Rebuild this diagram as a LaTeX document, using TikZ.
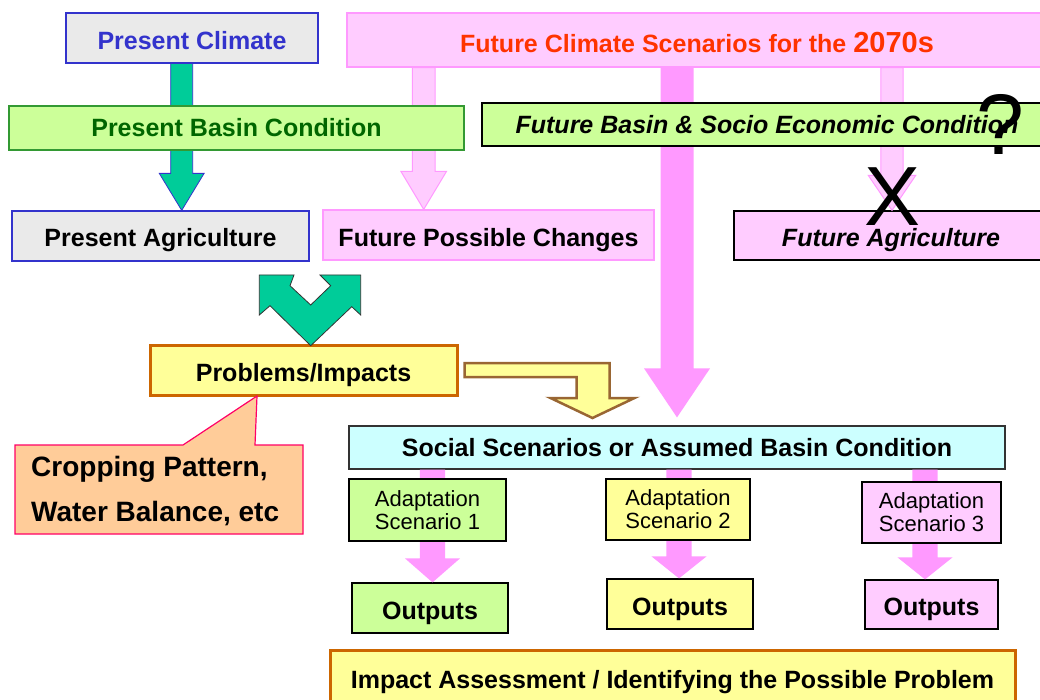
\documentclass[tikz,border=0pt]{standalone}
\usepackage{fontspec}
\setmainfont{Liberation Sans}
\usepackage{tikz}
\usetikzlibrary{calc}
\definecolor{climgray}{HTML}{EAEAEA}
\definecolor{climblue}{HTML}{3333CC}
\definecolor{pinklt}{HTML}{FFCCFF}
\definecolor{pinkmid}{HTML}{FF99FF}
\definecolor{futred}{HTML}{FF3300}
\definecolor{limegreen}{HTML}{CCFF99}
\definecolor{basingreen}{HTML}{339933}
\definecolor{darkgreen}{HTML}{006600}
\definecolor{paleyellow}{HTML}{FFFF99}
\definecolor{rust}{HTML}{CC6600}
\definecolor{brownish}{HTML}{996633}
\definecolor{peach}{HTML}{FFCC99}
\definecolor{rosered}{HTML}{FF0066}
\definecolor{icecyan}{HTML}{CCFFFF}
\definecolor{jade}{HTML}{00CC99}

\newcommand{\boxfont}{\fontsize{25}{30}\selectfont\bfseries}
% block arrow: [style]{from}{tip}{half shaft}{half head}{head length}
\newcommand{\fatarrow}[6][]{%
  \path[#1] ($#2+(-#4,0)$) -- ($#3+(-#4,-#6)$) -- ($#3+(-#5,-#6)$) -- #3
    -- ($#3+(#5,-#6)$) -- ($#3+(#4,-#6)$) -- ($#2+(#4,0)$) -- cycle;}

\tikzset{
  box/.style={draw=black, line width=1.2pt, inner sep=0pt, minimum height=50pt,
    text height=22pt, text depth=0pt, font=\boxfont},
  slim/.style={minimum height=43pt, text height=18pt},
  climbox/.style={box, fill=climgray, draw=climblue},
  pinkbox/.style={box, fill=pinklt, draw=pinkmid},
  limebox/.style={box, fill=limegreen},
  yelbox/.style={box, fill=paleyellow},
  rustbox/.style={box, fill=paleyellow, draw=rust, line width=3pt},
  adapt/.style={draw=black, line width=1.2pt, inner sep=0pt, minimum height=61pt,
    align=center, font=\fontsize{22}{23}\selectfont},
  garrow/.style={fill=jade, draw=climblue, line width=0.8pt},
  parrow/.style={fill=pinklt, draw=pinkmid, line width=1pt},
  pfat/.style={fill=pinkmid},
  gshape/.style={fill=jade, draw=black!80, line width=0.8pt, line join=miter},
  yarrow/.style={fill=paleyellow, draw=brownish, line width=2.5pt, line join=miter},
  callout/.style={fill=peach, draw=rosered, line width=1.2pt},
  cropfont/.style={font=\fontsize{28}{45}\selectfont\bfseries, inner sep=0pt},
  big/.style={font=\fontsize{84}{84}\selectfont, inner sep=0pt},
}

\begin{document}
\begin{tikzpicture}[x=1pt, y=-1pt]
  \useasboundingbox (0,0) rectangle (1040,700);
  \clip (0,0) rectangle (1040,700);
  \fill[white] (0,0) rectangle (1040,700);

  % columns of the block arrows
  \coordinate (ga) at (181.7,0);
  \coordinate (pa) at (423.7,0);
  \coordinate (fp) at (677,0);
  \coordinate (fa) at (892,0);
  \coordinate (s1) at (432.5,0);
  \coordinate (s2) at (679,0);
  \coordinate (s3) at (925,0);

  % climate, agriculture and scenario boxes
  \node[climbox, minimum width=252pt, text height=24pt, text=climblue] (clim) at (192,38) {Present Climate};
  \node[pinkbox, minimum width=700pt, minimum height=54pt, text height=26pt, text=futred] (fclim) at (697,40)
    {Future Climate Scenarios for the {\fontsize{29}{30}\selectfont 2070s}};
  \node[climbox, minimum width=297pt] (pagri) at (160.5,236) {Present Agriculture};
  \node[pinkbox, minimum width=331pt, text height=23pt] (fposs) at (488.5,235) {Future Possible Changes};
  \node[box, fill=pinklt, minimum width=314pt, minimum height=49pt] (fagri) at (891,235.5) {\itshape Future Agriculture};
  \node[box, slim, fill=icecyan, draw=black!80, minimum width=656pt] (social) at (677,447.5)
    {Social Scenarios or Assumed Basin Condition};
  \node[limebox, minimum width=156pt] (out1) at (430,608) {Outputs};
  \node[yelbox, minimum width=146pt] (out2) at (680,604) {Outputs};
  \node[pinkbox, draw=black, minimum width=133pt, minimum height=49pt] (out3) at (931.5,604.5) {Outputs};
  \node[rustbox, minimum width=307pt] (prob) at (303.5,370) {Problems/Impacts};
  \node[rustbox, minimum width=685pt, minimum height=60pt, text height=16pt] (impact) at (672.5,680)
    {Impact Assessment / Identifying the Possible Problem};

  \coordinate (fptip) at ($(social.north -| fp)+(0,-8)$);
  \fatarrow[garrow]{(clim.south -| ga)}{(pagri.north -| ga)}{11}{22.4}{37}
  \fatarrow[parrow]{(fclim.south -| pa)}{(fposs.north -| pa)}{11.3}{22.8}{38}
  \fatarrow[pfat]{(fclim.south -| fp)}{(fptip)}{16.5}{33}{49}
  \fatarrow[parrow]{(fclim.south -| fa)}{(fagri.north -| fa)}{11.2}{23.7}{35}
  \fatarrow[pfat]{(social.south -| s1)}{(out1.north -| s1)}{12.7}{27.5}{24}
  \fatarrow[pfat]{(social.south -| s2)}{(out2.north -| s2)}{12.7}{27.5}{22}
  \fatarrow[pfat]{(social.south -| s3)}{(out3.north -| s3)}{12.7}{27.5}{22}

  % basin conditions over the arrow shafts
  \node[limebox, slim, draw=basingreen, minimum width=455pt, minimum height=44pt, text=darkgreen] (pbasin) at (236.5,128)
    {Present Basin Condition};
  \node[limebox, slim, minimum width=570pt] (fbasin) at (767,124.5)
    {\itshape Future Basin \& Socio Economic Condition};
  \node[adapt, fill=limegreen, minimum width=157pt, minimum height=62pt] (ad1) at (427.5,510) {Adaptation\\Scenario 1};
  \node[adapt, fill=paleyellow, minimum width=144pt] (ad2) at (678,509.5) {Adaptation\\Scenario 2};
  \node[adapt, fill=pinklt, minimum width=139pt] (ad3) at (931.5,512.5) {Adaptation\\Scenario 3};

  % merging arrow and bent arrow
  \draw[gshape] (259.3,275) -- (294,275) -- (290,285.7) -- (310.7,305) -- (330.7,285.7) -- (320,275)
    -- (360.7,275) -- (360.7,315) -- (351.7,306.7) -- (310.7,345.7) -- (270,305.7) -- (259.3,315) -- cycle;
  \draw[yarrow] ($(prob.east)+(6,-7)$) -- ++(145,0) -- ++(0,35) -- ++(25,0) -- ++(-42,20)
    -- ++(-42,-20) -- ++(26,0) -- ++(0,-21) -- ++(-112,0) -- cycle;

  % callout
  \draw[callout] (15,445) -- (183,445) -- (257,396) -- (255,445) -- (303,445) -- (303,534) -- (15,534) -- cycle;
  \node[cropfont, anchor=base west] (crop1) at (31,476.7) {Cropping Pattern,};
  \node[cropfont, anchor=base west] (crop2) at (31,521.7) {Water Balance, etc};

  \node[big] (nox) at (892,197) {X};
  \node[big, font=\fontsize{86}{86}\selectfont] (qm) at (1000,124.5) {?};
\end{tikzpicture}
\end{document}
